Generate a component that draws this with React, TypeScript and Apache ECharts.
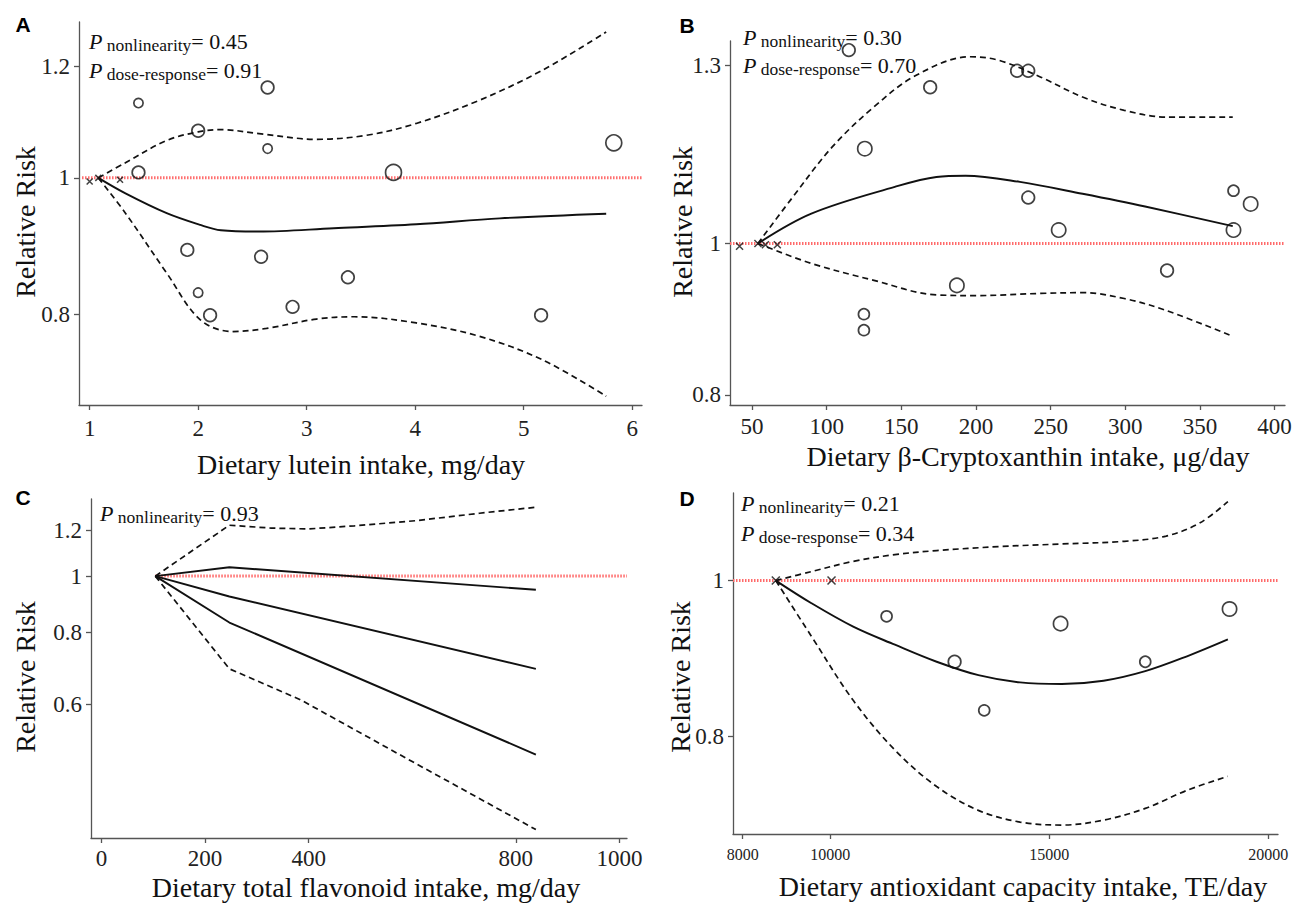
import React, { useEffect, useRef } from 'react';
import * as echarts from 'echarts';

const SERIF = '"Liberation Serif", "Times New Roman", serif';
const SANS = '"Liberation Sans", Arial, sans-serif';

// ---------- Panel A: lutein ----------
const aXTicks = [1, 2, 3, 4, 5, 6];
const aYTicks = [0.8, 1, 1.2];
const aCircX = [1.45, 1.45, 2.64, 2.0, 2.64, 3.8, 5.83, 1.9, 2.58, 3.38, 2.0, 2.11, 2.87, 5.16];
const aCircY = [1.13, 1.009, 1.159, 1.08, 1.049, 1.009, 1.059, 0.889, 0.879, 0.85, 0.829, 0.799, 0.81, 0.799];
const aCircW = [1, 2, 2, 2, 1, 3, 3, 2, 2, 2, 1, 2, 2, 2];
const aCrossX = [1.0, 1.08, 1.28];
const aCrossY = [0.994, 1.0, 0.997];
const aEstX = [1.08, 1.33, 1.71, 2.02, 2.21, 2.56, 3.25, 4.01, 4.78, 5.76];
const aEstY = [1, 0.975, 0.944, 0.926, 0.918, 0.916, 0.921, 0.927, 0.936, 0.943];
const aUpX = [1.08, 1.33, 1.71, 2.0, 2.21, 2.56, 3.09, 3.55, 4.01, 4.59, 5.17, 5.76];
const aUpY = [1, 1.025, 1.063, 1.078, 1.082, 1.075, 1.065, 1.072, 1.093, 1.135, 1.192, 1.269];
const aLoX = [1.08, 1.33, 1.71, 2.02, 2.32, 2.63, 3.09, 3.44, 4.01, 4.59, 5.17, 5.76];
const aLoY = [1, 0.944, 0.856, 0.793, 0.778, 0.782, 0.794, 0.797, 0.789, 0.772, 0.743, 0.7];

// ---------- Panel B: beta-cryptoxanthin ----------
const bXTicks = [50, 100, 150, 200, 250, 300, 350, 400];
const bYTicks = [0.8, 1, 1.3];
const bCircX = [114.8, 227.5, 235, 169.3, 125.5, 235, 372.5, 384, 255.4, 372.5, 328, 187.2, 124.9, 124.9];
const bCircY = [1.33, 1.29, 1.29, 1.259, 1.15, 1.07, 1.081, 1.06, 1.02, 1.02, 0.961, 0.94, 0.901, 0.88];
const bCircW = [2, 2, 2, 2, 2.5, 2, 1.5, 2.5, 2.5, 2.5, 2, 2.5, 1.5, 1.5];
const bCrossX = [41.6, 53.9, 58.9, 66.9];
const bCrossY = [0.996, 1.0, 0.998, 0.998];
const bEstX = [53.9, 89.7, 145.6, 173.5, 193, 229.4, 271.4, 313.3, 372];
const bEstY = [1, 1.045, 1.087, 1.103, 1.105, 1.095, 1.076, 1.056, 1.026];
const bUpX = [53.9, 75.7, 103.7, 131.6, 159.6, 195.9, 215.5, 243.4, 271.4, 299.3, 327.3, 372];
const bUpY = [1, 1.066, 1.153, 1.223, 1.281, 1.317, 1.31, 1.278, 1.241, 1.217, 1.205, 1.205];
const bLoX = [53.9, 89.7, 131.6, 173.5, 201.5, 243.4, 271.4, 299.3, 327.3, 372];
const bLoY = [1, 0.971, 0.947, 0.927, 0.926, 0.929, 0.93, 0.922, 0.906, 0.872];

// ---------- Panel C: total flavonoid ----------
const cXTicks = [0, 200, 400, 800, 1000];
const cYTicks = [0.6, 0.8, 1, 1.2];
const cLineX = [104, 247, 838.6];
const cEst1Y = [1, 1.036, 0.947];
const cEst2Y = [1, 0.922, 0.691];
const cEst3Y = [1, 0.831, 0.491];
const cUpX = [104, 247, 327.6, 400, 488.5, 609.3, 730, 838.6];
const cUpY = [1, 1.225, 1.211, 1.207, 1.222, 1.248, 1.285, 1.316];
const cLoX = [104, 247, 384, 610, 838.6];
const cLoY = [1, 0.691, 0.611, 0.472, 0.364];

// ---------- Panel D: antioxidant capacity ----------
const dXTicks = [8000, 10000, 15000, 20000];
const dYTicks = [0.8, 1];
const dCircX = [11286, 12838, 13514, 15257, 17190, 19114];
const dCircY = [0.95, 0.89, 0.83, 0.94, 0.89, 0.96];
const dCircW = [1.5, 2, 1.5, 2.5, 1.5, 2.5];
const dCrossX = [8757, 10029];
const dCrossY = [1, 1];
const dEstX = [8757, 9571, 10524, 11476, 12429, 13381, 14333, 15286, 16238, 17190, 18143, 19076];
const dEstY = [1, 0.968, 0.936, 0.912, 0.89, 0.873, 0.864, 0.862, 0.866, 0.878, 0.897, 0.919];
const dUpX = [8757, 9571, 10524, 11476, 12429, 13857, 15286, 16714, 17667, 18429, 19076];
const dUpY = [1, 1.013, 1.028, 1.038, 1.044, 1.05, 1.054, 1.058, 1.066, 1.086, 1.12];
const dLoX = [8757, 9571, 10524, 11476, 12429, 13381, 14333, 15286, 16238, 17190, 18143, 19076];
const dLoY = [1, 0.923, 0.842, 0.784, 0.744, 0.719, 0.707, 0.704, 0.709, 0.721, 0.74, 0.755];

const L = (v: number) => Math.log10(v);
const fmtY = (v: number) => String(Number(Math.pow(10, v).toPrecision(3)));
const pairs = (xs: number[], ys: number[]) => xs.map((x, i) => [x, L(ys[i])]);
const circleSize = (w: number) => 6 + 3.3 * w;

type Curve = { xs: number[]; ys: number[]; dashed: boolean };
type Panel = {
  box: { left: number; top: number; width: number; height: number };
  xMin: number; xMax: number; yMin: number; yMax: number;
  xTicks: number[]; yTicks: number[];
  xLabelSize: number; xLabelMargin: number;
  refStart: number;
  smooth: number | boolean;
  curves: Curve[];
  circ?: { xs: number[]; ys: number[]; w: number[] };
  cross?: { xs: number[]; ys: number[]; size: number };
};

const panels: Panel[] = [
  {
    box: { left: 79, top: 22, width: 563, height: 383 },
    xMin: 0.902, xMax: 6.09, yMin: 0.69, yMax: 1.29,
    xTicks: aXTicks, yTicks: aYTicks, xLabelSize: 23, xLabelMargin: 12,
    refStart: 0.93, smooth: 0.35,
    curves: [
      { xs: aEstX, ys: aEstY, dashed: false },
      { xs: aUpX, ys: aUpY, dashed: true },
      { xs: aLoX, ys: aLoY, dashed: true },
    ],
    circ: { xs: aCircX, ys: aCircY, w: aCircW },
    cross: { xs: aCrossX, ys: aCrossY, size: 6 },
  },
  {
    box: { left: 730, top: 41, width: 555, height: 364 },
    xMin: 35.2, xMax: 407, yMin: 0.788, yMax: 1.348,
    xTicks: bXTicks, yTicks: bYTicks, xLabelSize: 23, xLabelMargin: 10,
    refStart: 35.2, smooth: 0.35,
    curves: [
      { xs: bEstX, ys: bEstY, dashed: false },
      { xs: bUpX, ys: bUpY, dashed: true },
      { xs: bLoX, ys: bLoY, dashed: true },
    ],
    circ: { xs: bCircX, ys: bCircY, w: bCircW },
    cross: { xs: bCrossX, ys: bCrossY, size: 7 },
  },
  {
    box: { left: 91, top: 499, width: 536, height: 339 },
    xMin: -20.1, xMax: 1014.5, yMin: 0.352, yMax: 1.36,
    xTicks: cXTicks, yTicks: cYTicks, xLabelSize: 23, xLabelMargin: 9,
    refStart: 104, smooth: false,
    curves: [
      { xs: cLineX, ys: cEst1Y, dashed: false },
      { xs: cLineX, ys: cEst2Y, dashed: false },
      { xs: cLineX, ys: cEst3Y, dashed: false },
      { xs: cUpX, ys: cUpY, dashed: true },
      { xs: cLoX, ys: cLoY, dashed: true },
    ],
  },
  {
    box: { left: 733, top: 493, width: 545, height: 341 },
    xMin: 7780, xMax: 20220, yMin: 0.695, yMax: 1.134,
    xTicks: dXTicks, yTicks: dYTicks, xLabelSize: 16, xLabelMargin: 12,
    refStart: 7780, smooth: 0.35,
    curves: [
      { xs: dEstX, ys: dEstY, dashed: false },
      { xs: dUpX, ys: dUpY, dashed: true },
      { xs: dLoX, ys: dLoY, dashed: true },
    ],
    circ: { xs: dCircX, ys: dCircY, w: dCircW },
    cross: { xs: dCrossX, ys: dCrossY, size: 8 },
  },
];

const AXIS_COLOR = '#555';

function buildOption() {
  const grid = panels.map((p) => ({ ...p.box }));
  const xAxis = panels.map((p, i) => ({
    gridIndex: i,
    type: 'value',
    min: p.xMin,
    max: p.xMax,
    axisLine: { show: true, onZero: false, lineStyle: { color: AXIS_COLOR, width: 1.3 } },
    axisTick: { show: true, length: 5, customValues: p.xTicks, lineStyle: { color: AXIS_COLOR, width: 1.3 } },
    axisLabel: {
      customValues: p.xTicks,
      formatter: (v: number) => String(v),
      fontFamily: SERIF,
      fontSize: p.xLabelSize,
      color: '#222',
      margin: p.xLabelMargin,
    },
    splitLine: { show: false },
  }));
  const yAxis = panels.map((p, i) => ({
    gridIndex: i,
    type: 'value',
    min: L(p.yMin),
    max: L(p.yMax),
    axisLine: { show: true, onZero: false, lineStyle: { color: AXIS_COLOR, width: 1.3 } },
    axisTick: { show: true, length: 5, customValues: p.yTicks.map(L), lineStyle: { color: AXIS_COLOR, width: 1.3 } },
    axisLabel: {
      customValues: p.yTicks.map(L),
      formatter: fmtY,
      fontFamily: SERIF,
      fontSize: 23,
      color: '#222',
      margin: 9,
    },
    splitLine: { show: false },
  }));

  const series: any[] = [];
  panels.forEach((p, i) => {
    series.push({
      type: 'line',
      xAxisIndex: i,
      yAxisIndex: i,
      data: [[p.refStart, 0], [p.xMax, 0]],
      symbol: 'none',
      silent: true,
      z: 1,
      lineStyle: { color: '#ff6a6a', width: 3, type: [1.5, 1.5] },
    });
    p.curves.forEach((c) => {
      series.push({
        type: 'line',
        xAxisIndex: i,
        yAxisIndex: i,
        data: pairs(c.xs, c.ys),
        smooth: p.smooth,
        symbol: 'none',
        showSymbol: false,
        z: 3,
        lineStyle: { color: '#111', width: c.dashed ? 1.7 : 1.9, type: c.dashed ? [6, 4] : 'solid' },
      });
    });
    if (p.circ) {
      const c = p.circ;
      series.push({
        type: 'scatter',
        xAxisIndex: i,
        yAxisIndex: i,
        data: c.xs.map((x, k) => [x, L(c.ys[k]), c.w[k]]),
        symbol: 'circle',
        symbolSize: (d: number[]) => circleSize(d[2]),
        z: 4,
        itemStyle: { color: 'rgba(255,255,255,0)', borderColor: '#111', borderWidth: 1.7 },
      });
    }
    if (p.cross) {
      const c = p.cross;
      series.push({
        type: 'scatter',
        xAxisIndex: i,
        yAxisIndex: i,
        data: pairs(c.xs, c.ys),
        symbol: 'path://M0,0L10,10M10,0L0,10',
        symbolSize: c.size,
        z: 4,
        itemStyle: { color: 'none', borderColor: '#111', borderWidth: 1.5 },
      });
    }
  });

  const letter = (t: string, x: number, y: number) => ({
    type: 'text', x, y,
    style: { text: t, fontFamily: SANS, fontWeight: 'bold', fontSize: 21, fill: '#000', align: 'center', verticalAlign: 'middle' },
  });
  const xTitle = (t: string, x: number, y: number) => ({
    type: 'text', x, y,
    style: { text: t, fontFamily: SERIF, fontSize: 28, fill: '#111', align: 'center', verticalAlign: 'middle' },
  });
  const yTitle = (x: number, y: number) => ({
    type: 'text', x, y, rotation: Math.PI / 2,
    style: { text: 'Relative Risk', fontFamily: SERIF, fontSize: 28, fill: '#111', align: 'center', verticalAlign: 'middle' },
  });
  const pText = (x: number, y: number, sub: string, val: string) => ({
    type: 'text', x, y,
    style: {
      text: `{p|P}{s| ${sub}}{n|= ${val}}`,
      align: 'left',
      verticalAlign: 'middle',
      rich: {
        p: { fontFamily: SERIF, fontStyle: 'italic', fontSize: 22, fill: '#111', lineHeight: 26 },
        s: { fontFamily: SERIF, fontSize: 17.5, fill: '#111', lineHeight: 17, verticalAlign: 'bottom' },
        n: { fontFamily: SERIF, fontSize: 22, fill: '#111', lineHeight: 26 },
      },
    },
  });

  const graphic = [
    letter('A', 23, 24),
    letter('B', 687, 25),
    letter('C', 23, 497),
    letter('D', 687, 498),
    xTitle('Dietary lutein intake, mg/day', 361, 464),
    xTitle('Dietary β-Cryptoxanthin intake, μg/day', 1028, 456),
    xTitle('Dietary total flavonoid intake, mg/day', 366, 887),
    xTitle('Dietary antioxidant capacity intake, TE/day', 1023, 886),
    yTitle(25, 222),
    yTitle(682, 222),
    yTitle(25, 677),
    yTitle(680, 677),
    pText(89, 41, 'nonlinearity', '0.45'),
    pText(89, 70, 'dose-response', '0.91'),
    pText(743, 37, 'nonlinearity', '0.30'),
    pText(743, 65, 'dose-response', '0.70'),
    pText(100, 513, 'nonlinearity', '0.93'),
    pText(741, 503, 'nonlinearity', '0.21'),
    pText(741, 533, 'dose-response', '0.34'),
  ];

  return {
    animation: false,
    backgroundColor: '#fff',
    grid,
    xAxis,
    yAxis,
    series,
    graphic,
  };
}

export default function App() {
  const ref = useRef<HTMLDivElement>(null);
  useEffect(() => {
    if (!ref.current) return;
    const chart = echarts.init(ref.current, undefined, { renderer: 'svg' });
    chart.setOption(buildOption() as any);
    return () => chart.dispose();
  }, []);
  return (
    <div
      ref={ref}
      style={{ position: 'absolute', left: 0, top: 0, width: 1295, height: 903, background: '#fff' }}
    />
  );
}
